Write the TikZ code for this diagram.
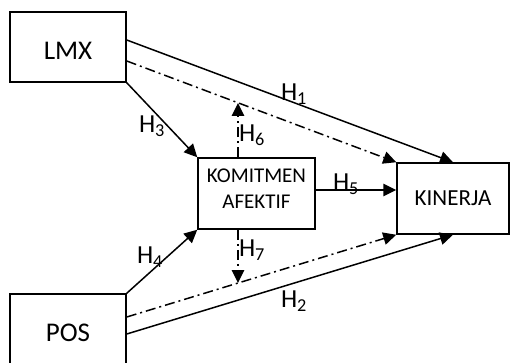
\documentclass[tikz,border=0pt]{standalone}
\usepackage{fontspec}
\setmainfont{Carlito}
\usetikzlibrary{arrows.meta,calc}
\begin{document}
\begin{tikzpicture}[x=1pt,y=-1pt,
  box/.style={draw,line width=1.5pt,inner sep=0pt,align=center},
  arr/.style={line width=1.5pt,-{Triangle[length=13pt,width=12.5pt]}},
  dd/.style={dash pattern=on 10pt off 4pt on 2pt off 4pt},
  lab/.style={inner sep=0pt,font=\fontsize{26}{31}\selectfont}]
\useasboundingbox (0,0) rectangle (510,363);
\node[box,minimum width=116pt,minimum height=70pt,font=\fontsize{27}{32}\selectfont] (lmx) at (68,47) {\rule{0pt}{25.4pt}LMX};
\node[box,minimum width=116pt,minimum height=70pt,font=\fontsize{27}{32}\selectfont] (pos) at (68,329) {\rule{0pt}{25.4pt}POS};
\node[box,minimum width=117pt,minimum height=71pt,font=\fontsize{21}{26}\selectfont] (kom) at (256.5,193.5) {KOMITMEN\\AFEKTIF\rule[-9pt]{0pt}{9pt}};
\node[box,minimum width=112pt,minimum height=71pt,font=\fontsize{23}{28}\selectfont] (kin) at (453,198.5) {KINERJA};
\coordinate (h6) at (238,103);
\coordinate (h7) at (238,283);
\draw[arr] ([yshift=7pt]lmx.east) -- (kin.north);
\draw[arr,dd] ([yshift=-14pt]lmx.east) -- (kin.north west);
\draw[arr] (lmx.south east) -- (kom.north west);
\draw[arr] (pos.north east) -- (kom.south west);
\draw[arr,dd] ([yshift=12pt]pos.east) -- (kin.south west);
\draw[arr] ([yshift=-5pt]pos.east) -- (kin.south);
\draw[arr] ([yshift=3.5pt]kom.east) -- ([yshift=3.5pt]kom.east -| kin.west);
\draw[arr,dd] ([xshift=-18.5pt]kom.north) -- (h6);
\draw[arr,dd] ([xshift=-18.5pt]kom.south) -- (h7);
\node[lab] (l1) at (294,94) {H\textsubscript{1}};
\node[lab] (l2) at (294,301) {H\textsubscript{2}};
\node[lab] (l3) at (152,126) {H\textsubscript{3}};
\node[lab] (l4) at (150,257) {H\textsubscript{4}};
\node[lab] (l5) at (346,184) {H\textsubscript{5}};
\node[lab] (l6) at (252,135) {H\textsubscript{6}};
\node[lab] (l7) at (252,250) {H\textsubscript{7}};
\end{tikzpicture}
\end{document}
